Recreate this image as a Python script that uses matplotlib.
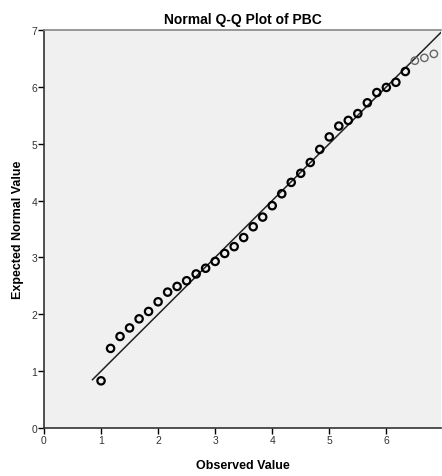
import numpy as np
import matplotlib.pyplot as plt

plt.rcParams['font.family'] = ['Liberation Sans', 'DejaVu Sans']

observed = [1.0, 1.167, 1.333, 1.5, 1.667, 1.833, 2.0, 2.167, 2.333, 2.5,
            2.667, 2.833, 3.0, 3.167, 3.333, 3.5, 3.667, 3.833, 4.0, 4.167,
            4.333, 4.5, 4.667, 4.833, 5.0, 5.167, 5.333, 5.5, 5.667, 5.833,
            6.0, 6.167, 6.333, 6.5, 6.667, 6.833]
expected = [0.83, 1.40, 1.61, 1.76, 1.92, 2.05, 2.22, 2.39, 2.49, 2.59,
            2.71, 2.81, 2.93, 3.07, 3.19, 3.35, 3.54, 3.71, 3.91, 4.12,
            4.32, 4.48, 4.67, 4.90, 5.12, 5.31, 5.41, 5.53, 5.72, 5.90,
            5.99, 6.08, 6.27, 6.46, 6.51, 6.58]
line_x = [0.85, 7.0]
x_ticks = [0, 1, 2, 3, 4, 5, 6]
y_ticks = [0, 1, 2, 3, 4, 5, 6, 7]

fig = plt.figure(figsize=(4.42, 4.77), dpi=100)
ax = fig.add_axes([0.0995, 0.1006, 0.8985, 0.8344])
ax.set_facecolor('#f0f0f0')

# reference line
ax.plot(line_x, line_x, color='#222222', linewidth=1.1, zorder=2)

obs = np.array(observed)
exp = np.array(expected)
dark = obs < 6.4
ax.scatter(obs[dark], exp[dark], s=28, facecolors='none', edgecolors='black',
           linewidths=1.6, zorder=3)
ax.scatter(obs[~dark], exp[~dark], s=28, facecolors='none', edgecolors='#666666',
           linewidths=1.0, zorder=3)

ax.set_xlim(0, 6.96)
ax.set_ylim(0, 7)
ax.set_xticks(x_ticks)
ax.set_yticks(y_ticks)
ax.tick_params(direction='out', length=4, width=1, colors='black',
               labelsize=7.5, labelcolor='#333333', pad=1)

ax.spines['right'].set_visible(False)
ax.spines['top'].set_color('#888888')
ax.spines['top'].set_linewidth(1.2)
ax.spines['left'].set_linewidth(1.2)
ax.spines['bottom'].set_linewidth(1.2)
ax.spines['left'].set_color('#333333')
ax.spines['bottom'].set_color('#333333')

ax.set_title('Normal Q-Q Plot of PBC', fontsize=10, fontweight='bold', pad=5)
ax.set_xlabel('Observed Value', fontsize=9, fontweight='bold', labelpad=10)
ax.set_ylabel('Expected Normal Value', fontsize=9, fontweight='bold', labelpad=5)

fig.savefig('out.png', dpi=100)
